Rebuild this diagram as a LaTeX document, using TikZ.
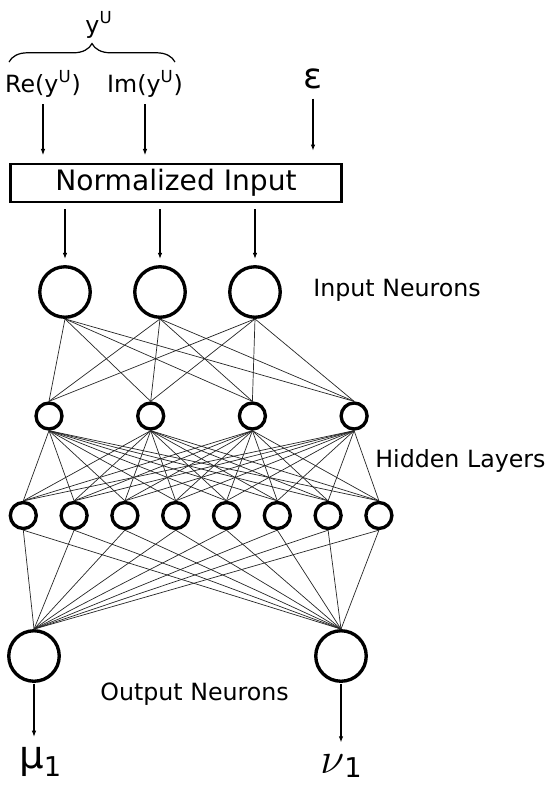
\documentclass[tikz,border=0pt]{standalone}
\usepackage{fontspec}
\setmainfont{DejaVu Sans}
\usetikzlibrary{arrows.meta,decorations.pathreplacing}

\begin{document}
\begin{tikzpicture}[
    x=0.02cm, y=-0.02cm,
    >={Latex[length=3.5pt,width=2.6pt]},
    neuron/.style={draw, circle, line width=1.9pt, inner sep=0pt, minimum size=1.01cm},
    hidden/.style={neuron, minimum size=0.52cm},
    link/.style={line width=0.4pt, black!85},
    feed/.style={->, line width=0.6pt, shorten <=3.5pt, shorten >=3.5pt},
    tag/.style={font=\fontsize{13.5}{16}\selectfont, inner sep=0pt},
    bigsym/.style={inner sep=0pt, anchor=base west},
]
    \useasboundingbox (0,0) rectangle (550,785);

    % ============================================================
    %  INPUT QUANTITIES
    % ============================================================
    \node[tag, anchor=base] (yu) at (99,33) {y\textsuperscript{U}};
    \draw[decorate, decoration={brace, amplitude=10.5pt}, line width=0.7pt]
        (9,62) -- (175,62);
    \node[tag, anchor=base] (re) at (43,92)  {Re(y\textsuperscript{U})};
    \node[tag, anchor=base] (im) at (145,92) {Im(y\textsuperscript{U})};
    \node[tag, anchor=base, font=\fontsize{20}{24}\selectfont] (eps) at (313,88) {ε};

    \node[draw, line width=1.4pt, minimum width=6.62cm, minimum height=0.752cm,
          inner sep=0pt, font=\fontsize{16}{19}\selectfont] (box) at (176,183)
          {Normalized Input};

    % ============================================================
    %  NEURONS
    % ============================================================
    \foreach \i in {1,2,3}
        \node[neuron] (in\i) at ({65+95*(\i-1)},292) {};
    \foreach \i in {1,...,4}
        \node[hidden] (ha\i) at ({49+101.7*(\i-1)},416) {};
    \foreach \i in {1,...,8}
        \node[hidden] (hb\i) at ({23.3+50.8*(\i-1)},515.5) {};
    \node[neuron] (out1) at (34,656)  {};
    \node[neuron] (out2) at (341,656) {};

    % layer captions
    \node[tag, anchor=base west] at (313,296) {Input Neurons};
    \node[tag, anchor=base west] at (375,467) {Hidden Layers};
    \node[tag, anchor=base west] at (100,700) {Output Neurons};

    % outputs
    \node[bigsym] (mu) at (19,768)
        {\fontsize{22}{26}\selectfont μ\raisebox{-5pt}{\fontsize{15.5}{18}\selectfont 1}};
    \node[bigsym] (nu) at (320,773)
        {\fontsize{34}{40}\selectfont $\nu$\raisebox{-2.3pt}{\fontsize{15.5}{18}\selectfont 1}};

    % ============================================================
    %  FEED ARROWS
    % ============================================================
    \draw[feed, shorten <=4pt, shorten >=4.5pt] (re.south) -- (re.south |- box.north);
    \draw[feed, shorten <=4pt, shorten >=4.5pt] (im.south) -- (im.south |- box.north);
    \draw[feed, shorten <=5.5pt, shorten >=7pt] (eps.south) -- (eps.south |- box.north);
    \foreach \i in {1,2,3}
        \draw[feed] (box.south -| in\i.north) -- (in\i.north);
    \draw[feed, shorten <=0.5pt, shorten >=5.5pt] (out1.south) -- (out1.south |- mu.north);
    \draw[feed, shorten <=0.5pt, shorten >=6.5pt] (out2.south) -- (out2.south |- nu.north);

    % ============================================================
    %  WEIGHTS (every neuron to every neuron of the next layer)
    % ============================================================
    \foreach \i in {1,2,3}
        \foreach \j in {1,...,4}
            \draw[link] (in\i.south) -- (ha\j.north);
    \foreach \i in {1,...,4}
        \foreach \j in {1,...,8}
            \draw[link] (ha\i.south) -- (hb\j.north);
    \foreach \i in {1,...,8}
        \foreach \j in {1,2}
            \draw[link] (hb\i.south) -- (out\j.north);

\end{tikzpicture}
\end{document}
